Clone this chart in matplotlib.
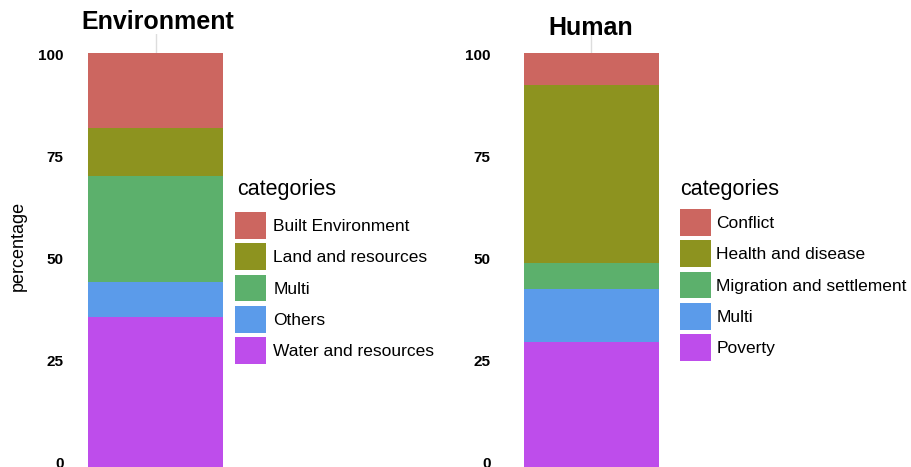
import matplotlib.pyplot as plt
from matplotlib.patches import Patch
from matplotlib.transforms import ScaledTranslation

plt.rcParams['font.family'] = ['Liberation Sans', 'DejaVu Sans']

# データ（下から積み上げ順）
env_categories = ['Water and resources', 'Others', 'Multi', 'Land and resources', 'Built Environment']
env_values = [36.8, 8.6, 26.0, 11.7, 18.4]

human_categories = ['Poverty', 'Multi', 'Migration and settlement', 'Health and disease', 'Conflict']
human_values = [30.7, 13.0, 6.4, 43.5, 7.9]

yticks = [0, 25, 50, 75, 100]

# 色（下から順）
colors = ['#BE4DEB', '#5B9BEA', '#5CB06C', '#8D931F', '#CC6660']

W, H = 912, 467
fig = plt.figure(figsize=(W / 100, H / 100), dpi=100)

PX = 4.085  # 1単位あたりのピクセル
YMIN, YMAX = -5.0, 106.0


def px_axes(left, width):
    # 0 が y=467.5px に来るように配置
    bottom_px = 467.5 - YMIN * PX
    height = (YMAX - YMIN) * PX
    return fig.add_axes([left / W, 1 - bottom_px / H, width / W, height / H])


def draw_panel(ax, values, categories, pad):
    bottom = 0
    handles = []
    for v, c, name in zip(values, colors, categories):
        ax.bar(1, v, width=0.9, bottom=bottom, color=c, zorder=2)
        handles.append(Patch(facecolor=c, label=name))
        bottom += v
    ax.set_xlim(0.4, 1.6)
    ax.set_ylim(YMIN, YMAX)
    ax.set_xticks([1])
    ax.xaxis.grid(True, color='#dddddd', linewidth=1, zorder=0)
    ax.set_yticks(yticks)
    ax.set_yticklabels([str(t) for t in yticks], fontweight='bold', fontsize=11)
    ax.tick_params(axis='x', length=0, labelbottom=False)
    ax.tick_params(axis='y', length=0, pad=pad)
    # ラベルを少し上に
    off = ScaledTranslation(0, 4.5 / 100, fig.dpi_scale_trans)
    for lab in ax.get_yticklabels():
        lab.set_transform(lab.get_transform() + off)
    for s in ax.spines.values():
        s.set_visible(False)
    return handles[::-1]


ax1 = px_axes(65.5, 180)
h1 = draw_panel(ax1, env_values, env_categories, 1.5)
ax2 = px_axes(501.5, 180)
h2 = draw_panel(ax2, human_values, human_categories, 8)

fig.text(158 / W, 1 - 22 / H, 'Environment', ha='center', va='center', fontsize=18, fontweight='bold')
fig.text(591 / W, 1 - 28 / H, 'Human', ha='center', va='center', fontsize=18, fontweight='bold')
fig.text(18 / W, 1 - 246 / H, 'percentage', ha='center', va='center', rotation=90, fontsize=13)

fig.text(237 / W, 1 - 189 / H, 'categories', ha='left', va='center', fontsize=15.5)
fig.text(680 / W, 1 - 190 / H, 'categories', ha='left', va='center', fontsize=15.5)

for handles, x, y, tp in [(h1, 235, 212, 0.4), (h2, 680, 209, 0.3)]:
    leg = fig.legend(handles=handles, loc='upper left',
                     bbox_to_anchor=(x / W, 1 - y / H), frameon=False,
                     fontsize=12.5,
                     handlelength=1.8, handleheight=2.0, handletextpad=tp,
                     labelspacing=0.26, borderpad=0, borderaxespad=0)

fig.savefig('out.png', dpi=100, facecolor='white')
